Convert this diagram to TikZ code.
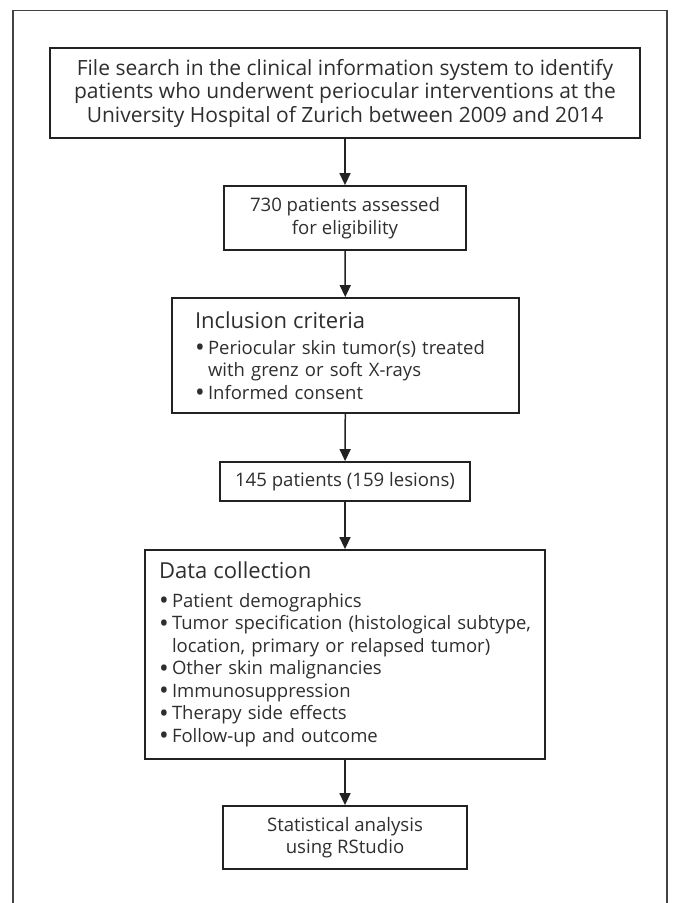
\documentclass[tikz,border=0pt]{standalone}
\usepackage{fontspec}
\setmainfont{Open Sans}
\usetikzlibrary{arrows.meta}
\definecolor{txt}{HTML}{2E2E2E}
\definecolor{ln}{HTML}{222222}
\newcommand{\bul}{\makebox[13pt][l]{\raisebox{-2.2pt}[0pt][0pt]{\scalebox{1.4}{\textbullet}}}}
\newcommand{\ind}{\hspace*{13pt}}
\newcommand{\hd}[1]{{\fontsize{22}{22.5}\selectfont #1}}
\begin{document}
\begin{tikzpicture}[x=1pt,y=-1pt,
  box/.style={draw=ln,line width=1.8pt,rectangle,inner sep=0pt,align=center,text=txt,
    font=\fontsize{18.6}{22.5}\selectfont},
  bigbox/.style={box,font=\fontsize{21}{23.5}\selectfont},
  lbox/.style={box,align=left,font=\fontsize{18.5}{22.5}\selectfont},
  arr/.style={draw=ln,line width=1.5pt,-{Triangle[length=12pt,width=11pt]}}]
\useasboundingbox (0,0) rectangle (678,903);
\draw[line width=1.2pt,draw=ln!85] (13,903) -- (13,10.5) -- (667,10.5) -- (667,903);
\node[bigbox,minimum width=590pt,minimum height=90pt] (b1) at (345,93)
  {File search in the clinical information system to identify\\
   patients who underwent periocular interventions at the\\
   University Hospital of Zurich between 2009 and 2014};
\node[box,minimum width=242pt,minimum height=64pt] (b2) at (345,218)
  {730 patients assessed\\ for eligibility};
\node[lbox,minimum width=347pt,minimum height=115pt,text width=301pt] (b3) at (345.5,355.5)
  {\hd{Inclusion criteria}\\[3pt]
   \mbox{\bul Periocular skin tumor(s) treated}\\
   \mbox{\ind with grenz or soft X-rays}\\
   \mbox{\bul Informed consent}};
\node[box,minimum width=250pt,minimum height=39pt] (b4) at (345,481.5)
  {145 patients (159 lesions)};
\node[lbox,minimum width=400pt,minimum height=209pt,text width=372pt] (b5) at (345,654.5)
  {\hd{Data collection}\\[6pt]
   \mbox{\bul Patient demographics}\\
   \mbox{\bul Tumor specification (histological subtype,}\\
   \mbox{\ind location, primary or relapsed tumor)}\\
   \mbox{\bul Other skin malignancies}\\
   \mbox{\bul Immunosuppression}\\
   \mbox{\bul Therapy side effects}\\
   \mbox{\bul Follow-up and outcome}};
\node[box,minimum width=244pt,minimum height=63pt] (b6) at (345,837.5)
  {Statistical analysis\\ using RStudio};
\draw[arr] (b1) -- (b2);
\draw[arr] (b2) -- (b3);
\draw[arr] (b3) -- (b4);
\draw[arr] (b4) -- (b5);
\draw[arr] (b5) -- (b6);
\end{tikzpicture}
\end{document}
